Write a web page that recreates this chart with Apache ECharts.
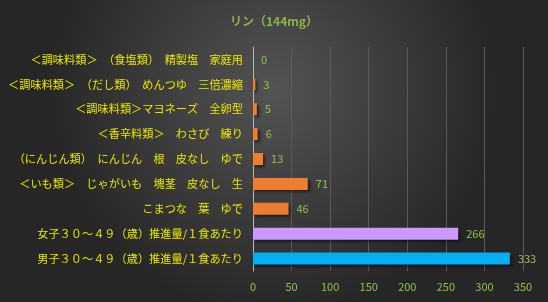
<!DOCTYPE html>
<html><head><meta charset="utf-8">
<script src="https://cdn.jsdelivr.net/npm/echarts@6/dist/echarts.min.js"></script>
<style>html,body{margin:0;padding:0;background:#2a2a2a}#c{width:548px;height:302px}</style>
</head><body><div id="c"></div>
<script>
const titleText = 'リン（144mg）';
const categories = [
  '＜調味料類＞　（食塩類）　精製塩　家庭用',
  '＜調味料類＞　（だし類）　めんつゆ　三倍濃縮',
  '＜調味料類＞マヨネーズ　全卵型',
  '＜香辛料類＞　わさび　練り',
  '（にんじん類）　にんじん　根　皮なし　ゆで',
  '＜いも類＞　じゃがいも　塊茎　皮なし　生',
  'こまつな　葉　ゆで',
  '女子３０～４９（歳）推進量/１食あたり',
  '男子３０～４９（歳）推進量/１食あたり'
];
const values = [0, 3, 5, 6, 13, 71, 46, 266, 333];
const barColors = ['#ED7D31','#ED7D31','#ED7D31','#ED7D31','#ED7D31','#ED7D31','#ED7D31','#CC99FF','#00B0F0'];
const xTicks = [0, 50, 100, 150, 200, 250, 300, 350];

const chart = echarts.init(document.getElementById('c'));
const font = '"Noto Sans CJK JP", "Noto Sans", sans-serif';
chart.setOption({
  animation: false,
  backgroundColor: {
    type: 'radial', x: 0.5, y: 0.3, r: 0.75,
    colorStops: [{offset: 0, color: '#545454'}, {offset: 1, color: '#262626'}]
  },
  title: {
    text: titleText, left: 'center', top: 10,
    textStyle: {color: '#8DB24C', fontSize: 12, fontWeight: 'bold', fontFamily: font}
  },
  grid: {left: 253, right: 25, top: 47, bottom: 31, containLabel: false},
  xAxis: {
    type: 'value', min: xTicks[0], max: xTicks[xTicks.length - 1], interval: 50,
    axisLine: {show: false}, axisTick: {show: false},
    splitLine: {lineStyle: {color: '#5a5a5a', width: 1}},
    axisLabel: {color: '#92C050', fontSize: 11, fontFamily: font, margin: 10}
  },
  yAxis: {
    type: 'category', data: categories, inverse: true,
    axisLine: {show: true, lineStyle: {color: '#b8b8b8', width: 1}},
    axisTick: {show: false},
    axisLabel: {color: '#E8E800', fontSize: 11.2, fontFamily: font, margin: 10}
  },
  series: [{
    type: 'bar',
    barWidth: 12,
    data: values.map((v, i) => ({
      value: v,
      itemStyle: {
        color: barColors[i],
        shadowColor: 'rgba(0,0,0,0.6)', shadowBlur: 3, shadowOffsetX: 2, shadowOffsetY: 2
      }
    })),
    label: {
      show: true, position: 'right', distance: 8,
      color: '#92C050', fontSize: 11, fontFamily: font
    }
  }]
});
</script></body></html>
